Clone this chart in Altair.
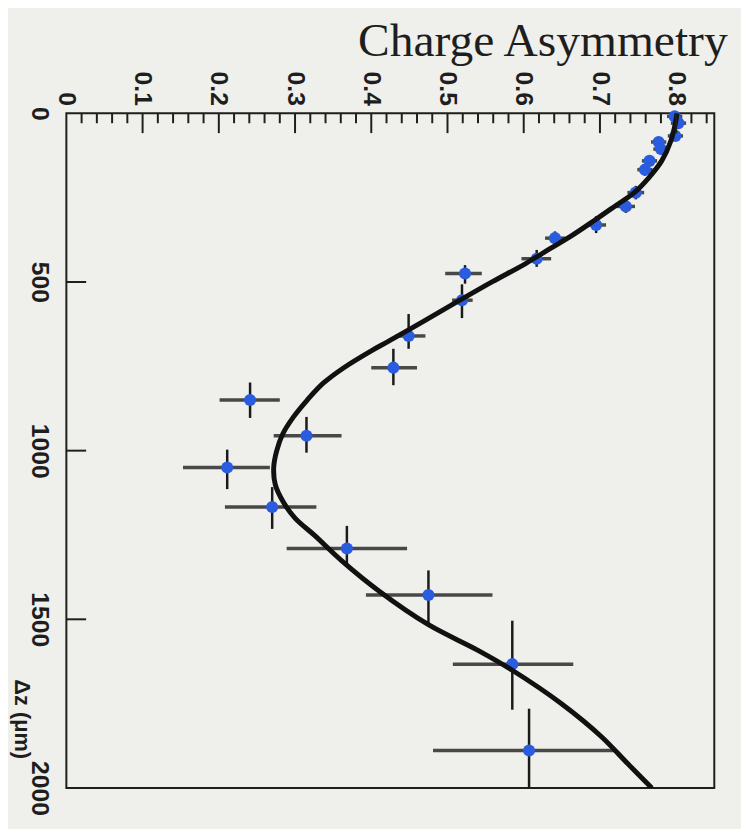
import altair as alt
import pandas as pd

# ---- data ----
asym = [0.798, 0.803, 0.799, 0.777, 0.780, 0.765, 0.759, 0.747, 0.734, 0.695, 0.641, 0.617,
        0.523, 0.519, 0.449, 0.429, 0.241, 0.315, 0.211, 0.270, 0.368, 0.475, 0.585, 0.607]
dz = [9, 29, 67, 85, 106, 141, 167, 235, 276, 331, 370, 431,
      475, 554, 660, 754, 850, 956, 1050, 1167, 1290, 1428, 1633, 1889]
asym_lo = [0.788, 0.793, 0.789, 0.767, 0.770, 0.755, 0.749, 0.736, 0.722, 0.682, 0.628, 0.597,
           0.497, 0.506, 0.432, 0.400, 0.201, 0.272, 0.153, 0.208, 0.289, 0.393, 0.507, 0.481]
asym_hi = [0.808, 0.813, 0.809, 0.787, 0.790, 0.775, 0.769, 0.758, 0.746, 0.708, 0.654, 0.636,
           0.545, 0.533, 0.471, 0.460, 0.280, 0.361, 0.267, 0.328, 0.447, 0.559, 0.665, 0.720]
dz_lo = [0, 18, 50, 75, 95, 125, 155, 215, 255, 305, 350, 405,
         450, 507, 595, 698, 798, 900, 997, 1108, 1223, 1355, 1504, 1765]
dz_hi = [18, 45, 80, 95, 120, 155, 185, 255, 295, 355, 395, 455,
         505, 607, 698, 806, 903, 1006, 1114, 1232, 1340, 1516, 1768, 2000]

fit_dz = [0, 29, 82, 141, 191, 235, 273, 317, 361, 402, 446, 499, 557, 616, 674, 704, 754,
          800, 850, 900, 950, 1000, 1050, 1100, 1150, 1200, 1252, 1326, 1416, 1516, 1592,
          1651, 1751, 1848, 1927, 2000]
fit_asym = [0.801, 0.799, 0.793, 0.781, 0.764, 0.745, 0.721, 0.693, 0.664, 0.634, 0.602, 0.559,
            0.514, 0.469, 0.424, 0.400, 0.364, 0.337, 0.316, 0.298, 0.284, 0.276, 0.272,
            0.274, 0.284, 0.300, 0.326, 0.361, 0.410, 0.475, 0.540, 0.585, 0.650, 0.702,
            0.736, 0.768]

asym_major = [0.0, 0.1, 0.2, 0.3, 0.4, 0.5, 0.6, 0.7, 0.8]
asym_minor = [0.02, 0.04, 0.06, 0.08, 0.12, 0.14, 0.16, 0.18, 0.22, 0.24, 0.26, 0.28,
              0.32, 0.34, 0.36, 0.38, 0.42, 0.44, 0.46, 0.48, 0.52, 0.54, 0.56, 0.58,
              0.62, 0.64, 0.66, 0.68, 0.72, 0.74, 0.76, 0.78, 0.82, 0.84]
dz_labels = [0, 500, 1000, 1500, 2000]
dz_ticks = [500, 1000, 1500]

pts = pd.DataFrame({"a": asym, "z": dz, "a_lo": asym_lo, "a_hi": asym_hi,
                    "z_lo": dz_lo, "z_hi": dz_hi})
fit = pd.DataFrame({"a": fit_asym, "z": fit_dz})
major = pd.DataFrame({"a": asym_major[1:]})
minor = pd.DataFrame({"a": asym_minor})
zt = pd.DataFrame({"z": dz_ticks})

BG = "#efefeb"
INK = "#1e1e1e"

xs = alt.Scale(domain=[0, 0.85], nice=False, zero=False)
ys = alt.Scale(domain=[0, 2000], nice=False, zero=False, reverse=True)

x_axis = alt.Axis(orient="top", values=asym_major, format=".1~f", title="Charge Asymmetry",
                  titleFont="Liberation Serif", titleFontSize=48, titleFontWeight="normal",
                  titleColor=INK, titleAngle=0, titleAlign="right", titleBaseline="alphabetic",
                  titleX=668, titleY=-58,
                  labelAngle=90, labelAlign="right", labelBaseline="middle",
                  labelFont="Liberation Sans", labelFontWeight="bold", labelFontSize=25,
                  labelColor=INK, labelPadding=8, labelFlush=False, labelOverlap=False,
                  labelBound=False, ticks=False, domain=False, grid=False)
y_axis = alt.Axis(orient="left", values=dz_labels, format="d", title="Δz (μm)",
                  titleFont="Liberation Sans", titleFontSize=22, titleFontWeight="bold",
                  titleColor=INK, titleAngle=90, titleAlign="center", titleBaseline="middle",
                  titleX=-45, titleY=612,
                  labelAngle=90, labelAlign="center", labelBaseline="middle",
                  labelFont="Liberation Sans", labelFontWeight="bold", labelFontSize=25,
                  labelColor=INK, labelPadding=27, labelFlush=False, labelOverlap=False,
                  labelBound=False, ticks=False, domain=False, grid=False)

def X(f):
    return alt.X(f, type="quantitative", scale=xs, axis=x_axis)

def Y(f):
    return alt.Y(f, type="quantitative", scale=ys, axis=y_axis)

hbars = alt.Chart(pts).mark_rule(color="#484848", strokeWidth=3.5).encode(
    x=X("a_lo"), x2="a_hi", y=Y("z"))
vbars = alt.Chart(pts).mark_rule(color="#1a1a1a", strokeWidth=2.5).encode(
    x=X("a"), y=Y("z_lo"), y2="z_hi")
dots = alt.Chart(pts).mark_circle(color="#2a5ce0", size=150, opacity=1).encode(
    x=X("a"), y=Y("z"))
curve = alt.Chart(fit).mark_line(color="#111111", strokeWidth=5, interpolate="catmull-rom",
                                 clip=True).encode(
    x=X("a"), y=Y("z"), order=alt.Order("z:Q"))
tmaj = alt.Chart(major).mark_rule(color=INK, strokeWidth=2).encode(
    x=X("a"), y=alt.value(0), y2=alt.value(20))
tmin = alt.Chart(minor).mark_rule(color=INK, strokeWidth=2).encode(
    x=X("a"), y=alt.value(0), y2=alt.value(10))
tz = alt.Chart(zt).mark_rule(color=INK, strokeWidth=2).encode(
    y=Y("z"), x=alt.value(0), x2=alt.value(20))

chart = alt.layer(hbars, vbars, dots, curve, tmaj, tmin, tz).properties(
    width=655, height=682,
    autosize=alt.AutoSizeParams(type="none"),
    padding={"left": 59, "top": 102, "right": 27, "bottom": 37},
    background=BG,
).configure_view(stroke=INK, strokeWidth=2, fill=BG)

chart.save("out.html", embed_options={"renderer": "svg", "actions": False})
